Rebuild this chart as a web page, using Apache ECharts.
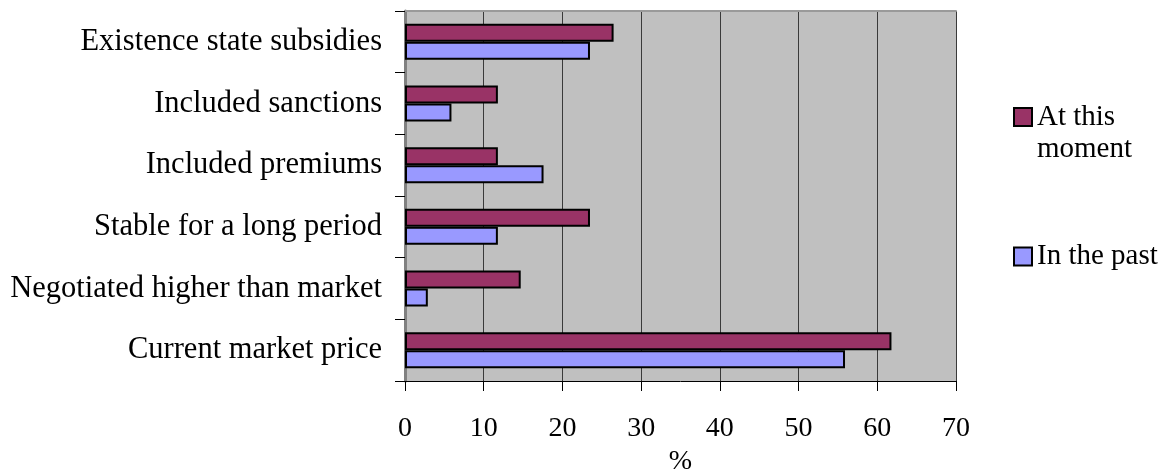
<!DOCTYPE html>
<html>
<head>
<meta charset="utf-8">
<style>
  html, body { margin: 0; padding: 0; background: #ffffff; }
  #chart { width: 1172px; height: 474px; }
</style>
<script src="https://cdn.jsdelivr.net/npm/echarts@6/dist/echarts.min.js"></script>
</head>
<body>
<div id="chart"></div>
<script>
// Pricing arrangements in contracts, share of respondents (%)
const categories = [
  'Existence state subsidies',
  'Included sanctions',
  'Included premiums',
  'Stable for a long period',
  'Negotiated higher than market',
  'Current market price'
];
const atThisMoment = [26.5, 11.8, 11.8, 23.5, 14.7, 61.8];
const inThePast = [23.5, 5.9, 17.6, 11.8, 2.9, 55.9];
const seriesNames = ['At this moment', 'In the past'];
const xTicks = { min: 0, max: 70, step: 10 };

const serif = '"Liberation Serif", "Times New Roman", serif';
const chart = echarts.init(document.getElementById('chart'), null, { renderer: 'canvas' });

chart.setOption({
  animation: false,
  backgroundColor: '#ffffff',
  grid: {
    left: 405, right: 216, top: 11, bottom: 93,
    outerBoundsMode: 'none',
    containLabel: false,
    show: true, backgroundColor: '#c0c0c0', borderWidth: 0
  },
  legend: [
    {
      data: [seriesNames[0]],
      orient: 'vertical',
      left: 1008, top: 64,
      itemWidth: 18, itemHeight: 18,
      icon: 'rect',
      itemStyle: { borderColor: '#000', borderWidth: 2 },
      // leading blank line keeps the swatch level with the first text line
      formatter: () => '\nAt this\nmoment',
      textStyle: { fontFamily: serif, fontSize: 29, color: '#000', lineHeight: 32 }
    },
    {
      data: [seriesNames[1]],
      orient: 'vertical',
      left: 1008, top: 237,
      itemWidth: 18, itemHeight: 18,
      icon: 'rect',
      itemStyle: { borderColor: '#000', borderWidth: 2 },
      textStyle: { fontFamily: serif, fontSize: 29, color: '#000', lineHeight: 28 }
    }
  ],
  xAxis: [
    {
      type: 'value',
      min: xTicks.min, max: xTicks.max, interval: xTicks.step,
      position: 'bottom',
      name: '%',
      nameLocation: 'middle',
      nameGap: 66,
      nameTextStyle: { fontFamily: serif, fontSize: 28, color: '#000' },
      axisLine: { show: true, lineStyle: { color: '#000', width: 1 } },
      axisTick: { show: true, length: 10, lineStyle: { color: '#000' } },
      axisLabel: { fontFamily: serif, fontSize: 28, color: '#000', margin: 34 },
      splitLine: { show: true, lineStyle: { color: '#3a3a3a', width: 1 } }
    },
    {
      // plain frame line along the top of the plot
      type: 'value',
      min: xTicks.min, max: xTicks.max,
      position: 'top',
      axisLine: { show: true, lineStyle: { color: '#9a9a9a', width: 2 } },
      axisTick: { show: false }, axisLabel: { show: false }, splitLine: { show: false }
    }
  ],
  yAxis: [
    {
      type: 'category',
      data: categories,
      inverse: true,
      axisLine: { show: true, lineStyle: { color: '#000', width: 1 } },
      axisTick: { show: true, length: 10, lineStyle: { color: '#000' } },
      axisLabel: { fontFamily: serif, fontSize: 30.5, color: '#000', margin: 23 },
      splitLine: { show: false }
    },
    {
      // plain frame line along the right edge of the plot
      type: 'category',
      data: categories,
      inverse: true,
      position: 'right',
      axisLine: { show: true, lineStyle: { color: '#808080', width: 3 } },
      axisTick: { show: false }, axisLabel: { show: false }, splitLine: { show: false }
    }
  ],
  series: [
    {
      name: seriesNames[0],
      type: 'bar',
      data: atThisMoment,
      barWidth: 18,
      barGap: '0%',
      itemStyle: { color: '#993366', borderColor: '#000', borderWidth: 2 }
    },
    {
      name: seriesNames[1],
      type: 'bar',
      data: inThePast,
      barWidth: 18,
      barGap: '0%',
      itemStyle: { color: '#9999ff', borderColor: '#000', borderWidth: 2 }
    }
  ]
});
</script>
</body>
</html>
